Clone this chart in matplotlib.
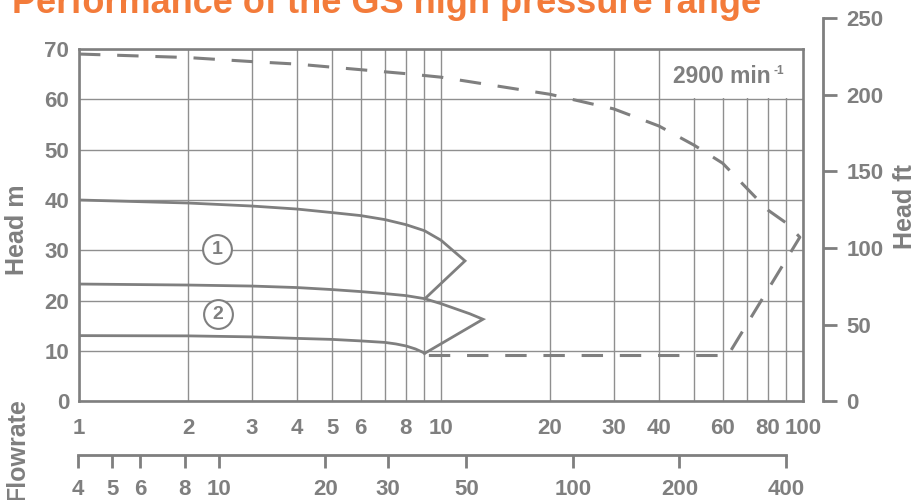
import matplotlib
matplotlib.use("Agg")
import matplotlib.pyplot as plt
from matplotlib.ticker import FixedLocator, FixedFormatter, NullLocator, NullFormatter
from matplotlib.patches import Rectangle

plt.rcParams['font.family'] = ['Liberation Sans', 'DejaVu Sans']
plt.rcParams['font.weight'] = 'bold'

# ---------------- data ----------------
title = "Performance of the GS high pressure range"
speed_label = "2900 min"

# pump curve 1 (upper) incl. return line to curve 2
q1 = [1, 2, 3, 4, 5, 6, 7, 8, 9, 10, 11.65, 9.03]
h1 = [40.0, 39.4, 38.8, 38.2, 37.5, 36.9, 36.1, 35.1, 33.9, 32.0, 27.9, 20.4]
# pump curve 2 (middle) incl. return line to curve 3
q2 = [1, 2, 3, 4, 5, 6, 7, 8, 9, 10, 12, 13.06, 9.0]
h2 = [23.3, 23.1, 22.9, 22.6, 22.2, 21.8, 21.4, 21.0, 20.4, 19.4, 17.4, 16.3, 9.5]
# lower curve
q3 = [1, 2, 3, 4, 5, 6, 7, 7.5, 8, 8.5, 9.0]
h3 = [13.05, 13.0, 12.8, 12.5, 12.3, 12.0, 11.7, 11.4, 11.0, 10.4, 9.6]
# dashed range envelope
qd = [1, 2, 3, 4, 8, 10, 20, 30, 40, 50, 60, 70, 80, 90, 98, 62, 9.0]
hd = [69.0, 68.3, 67.5, 67.0, 65.1, 64.4, 61.0, 58.1, 54.7, 50.9, 47.3, 42.3, 38.0, 35.4, 32.6, 9.1, 9.1]

label_q = [2.405, 2.42]
label_h = [30.2, 17.3]
label_txt = ["1", "2"]

x_ticks = [1, 2, 3, 4, 5, 6, 8, 10, 20, 30, 40, 60, 80, 100]
x_grid = [1, 2, 3, 4, 5, 6, 7, 8, 9, 10, 20, 30, 40, 50, 60, 70, 80, 90, 100]
y_ticks = [0, 10, 20, 30, 40, 50, 60, 70]
ft_ticks = [0, 50, 100, 150, 200, 250]
gpm_ticks = [4, 5, 6, 8, 10, 20, 30, 50, 100, 200, 400]

# ---------------- style ----------------
gray = '#7f7f7f'
grid_gray = '#8f8f8f'
orange = '#F37B3A'
W, H = 917, 500
tick_fs = 16

fig = plt.figure(figsize=(W / 100, H / 100), dpi=100)

ax = fig.add_axes([79 / W, 1 - 401.3 / H, 724 / W, 352.3 / H])
ax.set_xscale('log')
ax.set_xlim(1, 100)
ax.set_ylim(0, 70)
ax.xaxis.set_major_locator(FixedLocator(x_ticks))
ax.xaxis.set_major_formatter(FixedFormatter([str(v) for v in x_ticks]))
ax.xaxis.set_minor_locator(FixedLocator(x_grid))
ax.xaxis.set_minor_formatter(NullFormatter())
ax.set_yticks(y_ticks)
ax.grid(True, which='both', axis='x', color=grid_gray, lw=1.0)
ax.grid(True, which='major', axis='y', color=grid_gray, lw=1.0)
ax.tick_params(which='both', length=0, labelsize=tick_fs, labelcolor=gray)
ax.tick_params(axis='x', pad=12)
ax.tick_params(axis='y', pad=7)
for s in ax.spines.values():
    s.set_color(gray)
    s.set_linewidth(1.9)

# white area behind speed label (top row, right part)
ax.add_patch(Rectangle((41, 60.2), 59, 9.8, facecolor='white', edgecolor='none', zorder=1.6))

ax.plot(q1, h1, color=gray, lw=2.0, zorder=3, solid_joinstyle='miter')
ax.plot(q2, h2, color=gray, lw=2.0, zorder=3, solid_joinstyle='miter')
ax.plot(q3, h3, color=gray, lw=2.0, zorder=3)
ax.plot(qd, hd, color=gray, lw=2.2, zorder=3, dashes=(7, 5.5))

ax.scatter(label_q, label_h, s=430, facecolor='white', edgecolor=gray, lw=1.5, zorder=4)
for q, h, t in zip(label_q, label_h, label_txt):
    ax.text(q, h, t, ha='center', va='center', fontsize=14, color=gray, zorder=5)

# right axis in ft
axr = fig.add_axes([805 / W, 1 - 401.3 / H, 18 / W, (401.3 - 18) / H])
axr.set_ylim(0, 250)
axr.patch.set_visible(False)
for k in ['left', 'top', 'bottom']:
    axr.spines[k].set_visible(False)
axr.spines['right'].set_color(gray)
axr.spines['right'].set_linewidth(2.0)
axr.yaxis.tick_right()
axr.set_yticks(ft_ticks)
axr.set_xticks([])
axr.tick_params(axis='y', direction='out', length=10, width=2.0, color=gray,
                labelsize=tick_fs, labelcolor=gray, pad=7)

# secondary flowrate axis
axb = fig.add_axes([78 / W, 1 - 455 / H, 708 / W, 0.01])
axb.set_xscale('log')
axb.set_xlim(4, 400)
axb.xaxis.set_major_locator(FixedLocator(gpm_ticks))
axb.xaxis.set_major_formatter(FixedFormatter([str(v) for v in gpm_ticks]))
axb.xaxis.set_minor_locator(NullLocator())
axb.set_yticks([])
axb.patch.set_visible(False)
for k in ['left', 'top', 'right']:
    axb.spines[k].set_visible(False)
axb.spines['bottom'].set_color(gray)
axb.spines['bottom'].set_linewidth(2.0)
axb.tick_params(axis='x', direction='out', length=9.5, width=2.0, color=gray,
                labelsize=tick_fs, labelcolor=gray, pad=8)

# texts
fig.text(12 / W, 1 - 13 / H, title, fontsize=26, color=orange, ha='left', va='baseline')
fig.text(673 / W, 1 - 83 / H, speed_label, fontsize=16.5, color=gray, ha='left', va='baseline')
fig.text(773 / W, 1 - 74 / H, "-1", fontsize=8.5, color=gray, ha='left', va='baseline')
fig.text(17.5 / W, 1 - 230 / H, "Head m", fontsize=18, color=gray, rotation=90, ha='center', va='center')
fig.text(905 / W, 1 - 207 / H, "Head ft", fontsize=18, color=gray, rotation=90, ha='center', va='center')
fig.text(17.5 / W, 1 - 450 / H, "Flowrate", fontsize=18, color=gray, rotation=90, ha='center', va='center')

fig.savefig('out.png', dpi=100)
